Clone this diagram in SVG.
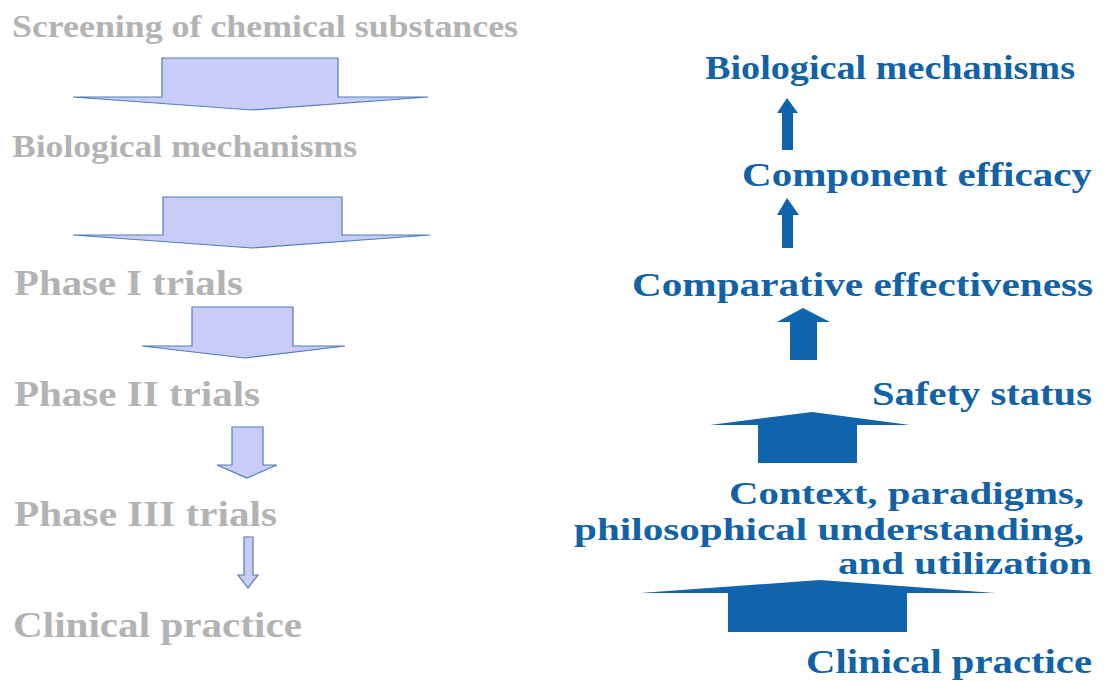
<svg xmlns="http://www.w3.org/2000/svg" width="1110" height="682" viewBox="0 0 1110 682">
<style>
.g{font-family:"Liberation Serif","Times New Roman",serif;font-weight:bold;fill:#b3b3b3}
.b{font-family:"Liberation Serif","Times New Roman",serif;font-weight:bold;fill:#1262a8;text-anchor:end}
.la{fill:#c9cbf9;stroke:#4f7fb5;stroke-width:1.2;stroke-linejoin:miter}
.ra{fill:#1063ad;stroke:none}
</style>
<rect width="1110" height="682" fill="#ffffff"/>
<g id="left-nodes">
<g id="l1"><text class="g" x="12" y="37" font-size="32" textLength="506" lengthAdjust="spacingAndGlyphs">Screening of chemical substances</text></g>
<g id="l2"><text class="g" x="12" y="157" font-size="31" textLength="345" lengthAdjust="spacingAndGlyphs">Biological mechanisms</text></g>
<g id="l3"><text class="g" x="14" y="295" font-size="35" textLength="229" lengthAdjust="spacingAndGlyphs">Phase I trials</text></g>
<g id="l4"><text class="g" x="14" y="406" font-size="35" textLength="246" lengthAdjust="spacingAndGlyphs">Phase II trials</text></g>
<g id="l5"><text class="g" x="14" y="526" font-size="35" textLength="263" lengthAdjust="spacingAndGlyphs">Phase III trials</text></g>
<g id="l6"><text class="g" x="13" y="637" font-size="35" textLength="289" lengthAdjust="spacingAndGlyphs">Clinical practice</text></g>
</g>
<g id="right-nodes">
<g id="r1"><text class="b" x="1075" y="79" font-size="34" textLength="370" lengthAdjust="spacingAndGlyphs">Biological mechanisms</text></g>
<g id="r2"><text class="b" x="1092" y="186" font-size="34" textLength="350" lengthAdjust="spacingAndGlyphs">Component efficacy</text></g>
<g id="r3"><text class="b" x="1093" y="296" font-size="34" textLength="461" lengthAdjust="spacingAndGlyphs">Comparative effectiveness</text></g>
<g id="r4"><text class="b" x="1092" y="405" font-size="34" textLength="220" lengthAdjust="spacingAndGlyphs">Safety status</text></g>
<g id="r5"><text class="b" font-size="32">
<tspan x="1092" y="504" textLength="355" lengthAdjust="spacingAndGlyphs">Context, paradigms,</tspan>
<tspan x="1092" y="540" textLength="510" lengthAdjust="spacingAndGlyphs">philosophical understanding,</tspan>
<tspan x="1092" y="574" textLength="254" lengthAdjust="spacingAndGlyphs">and utilization</tspan>
</text></g>
<g id="r6"><text class="b" x="1092" y="673" font-size="34" textLength="286" lengthAdjust="spacingAndGlyphs">Clinical practice</text></g>
</g>
<g id="connectors">
<polygon class="la" points="162,58 338,58 338,97 428,97 252,110 73,97 162,97"/>
<polygon class="la" points="163,197 342,197 342,235 430,235 252,248 73,235 163,235"/>
<polygon class="la" points="192,307 293,307 293,346 345,346 245,358 142,346 192,346"/>
<polygon class="la" points="232,427 263,427 263,465 277,465 247,478 217,465 232,465"/>
<polygon class="la" points="244,537 253,537 253,575 258,575 248,588 238,575 244,575"/>
<polygon class="ra" points="782,150 793,150 793,113 798,113 787,98 777,113 782,113"/>
<polygon class="ra" points="782,248 793,248 793,215 799,215 787,198 777,215 782,215"/>
<polygon class="ra" points="790,360 817,360 817,322 830,322 803,308 777,322 790,322"/>
<polygon class="ra" points="758,463 857,463 857,425 910,425 812,412 710,425 758,425"/>
<polygon class="ra" points="728,632 907,632 907,593 995,593 820,580 640,593 728,593"/>
</g>
</svg>
